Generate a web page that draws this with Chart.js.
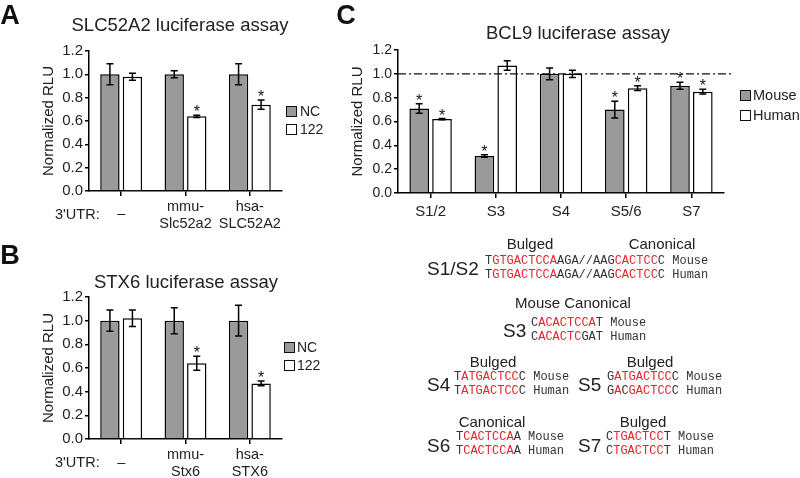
<!DOCTYPE html>
<html>
<head>
<meta charset="utf-8">
<script src="https://cdn.jsdelivr.net/npm/chart.js@4.4.1/dist/chart.umd.min.js"></script>
<style>
  body { margin: 0; background: #fff; font-family: 'Liberation Sans', Arial, sans-serif; color: #222; }
  #wrap { position: relative; width: 800px; height: 478px; overflow: hidden; }
  canvas { position: absolute; }
  .c, .l { position: absolute; white-space: nowrap; line-height: 1; }
  .c { transform: translate(-50%, -50%); }
  .l { transform: translateY(-50%); }
  .letter { font-weight: bold; font-size: 27px; color: #111; }
  .title { font-size: 18.5px; }
  .box { position: absolute; width: 9px; height: 9px; border: 1.5px solid #111; }
  .seq { font-family: 'Liberation Mono', 'Courier New', monospace; font-size: 12px; color: #333; line-height: 14px; }
  .seq b { font-weight: normal; color: #e3252d; }
  .site { font-size: 19px; }
  .kind { font-size: 15px; }
</style>
</head>
<body>
<div id="wrap">
  <canvas id="chartA" width="330" height="240" style="left:0;top:0"></canvas>
  <canvas id="chartB" width="330" height="238" style="left:0;top:240px"></canvas>
  <canvas id="chartC" width="470" height="240" style="left:330px;top:0"></canvas>

  <div class="c letter" style="left:10px;top:15px">A</div>
  <div class="c letter" style="left:10px;top:255px">B</div>
  <div class="c letter" style="left:346px;top:15px">C</div>

  <div class="c title" style="left:180px;top:25px">SLC52A2 luciferase assay</div>
  <div class="c title" style="left:186px;top:282px">STX6 luciferase assay</div>
  <div class="c title" style="left:578px;top:33px">BCL9 luciferase assay</div>

  <!-- legends -->
  <div class="box" style="left:286px;top:106px;background:#9a9a9a"></div>
  <div class="l" style="left:300px;top:111px;font-size:14px">NC</div>
  <div class="box" style="left:286px;top:124px;background:#fff"></div>
  <div class="l" style="left:300px;top:129px;font-size:14px">122</div>

  <div class="box" style="left:284px;top:342px;background:#9a9a9a"></div>
  <div class="l" style="left:297px;top:347px;font-size:14px">NC</div>
  <div class="box" style="left:284px;top:360px;background:#fff"></div>
  <div class="l" style="left:297px;top:365px;font-size:14px">122</div>

  <div class="box" style="left:740px;top:90px;background:#9a9a9a"></div>
  <div class="l" style="left:753px;top:95px;font-size:14.5px">Mouse</div>
  <div class="box" style="left:740px;top:110px;background:#fff"></div>
  <div class="l" style="left:753px;top:115px;font-size:14.5px">Human</div>

  <!-- target sites -->
  <div class="c kind" style="left:530px;top:243px">Bulged</div>
  <div class="c kind" style="left:662px;top:243px">Canonical</div>
  <div class="l site" style="left:427px;top:268px">S1/S2</div>
  <div class="l seq" style="left:485px;top:268px">T<b>GTGACTCCA</b>AGA//AAG<b>CACTCC</b>C Mouse<br>T<b>GTGACTCCA</b>AGA//AAG<b>CACTCC</b>C Human</div>

  <div class="c kind" style="left:573px;top:302px">Mouse Canonical</div>
  <div class="l site" style="left:503px;top:330px">S3</div>
  <div class="l seq" style="left:531px;top:330px">C<b>ACACTCCA</b>T Mouse<br>C<b>ACACTC</b>GAT Human</div>

  <div class="c kind" style="left:493px;top:361px">Bulged</div>
  <div class="c kind" style="left:650px;top:361px">Bulged</div>
  <div class="l site" style="left:427px;top:384px">S4</div>
  <div class="l seq" style="left:454px;top:384px">T<b>ATGACTCC</b>C Mouse<br>T<b>ATGACTCC</b>C Human</div>
  <div class="l site" style="left:578px;top:384px">S5</div>
  <div class="l seq" style="left:607px;top:384px">G<b>ATGACTCC</b>C Mouse<br>G<b>A</b>C<b>GACTCC</b>C Human</div>

  <div class="c kind" style="left:492px;top:421px">Canonical</div>
  <div class="c kind" style="left:643px;top:421px">Bulged</div>
  <div class="l site" style="left:427px;top:445px">S6</div>
  <div class="l seq" style="left:456px;top:444px">T<b>CACTCCA</b>A Mouse<br>T<b>CACTCCA</b>A Human</div>
  <div class="l site" style="left:578px;top:445px">S7</div>
  <div class="l seq" style="left:606px;top:444px">C<b>TGACTCC</b>T Mouse<br>C<b>TGACTCC</b>T Human</div>
</div>

<script>
// panel A - SLC52A2
const catsA = [['–'], ['mmu-', 'Slc52a2'], ['hsa-', 'SLC52A2']];
const ncA = [1.0, 1.0, 1.0];
const ncErrA = [0.09, 0.03, 0.09];
const mirA = [0.98, 0.64, 0.74];
const mirErrA = [0.03, 0.01, 0.04];
const mirStarA = [false, true, true];

// panel B - STX6
const catsB = [['–'], ['mmu-', 'Stx6'], ['hsa-', 'STX6']];
const ncB = [1.0, 1.0, 1.0];
const ncErrB = [0.09, 0.11, 0.13];
const mirB = [1.02, 0.64, 0.47];
const mirErrB = [0.07, 0.06, 0.02];
const mirStarB = [false, true, true];

// panel C - BCL9
const catsC = ['S1/2', 'S3', 'S4', 'S5/6', 'S7'];
const mouseC = [0.71, 0.31, 1.0, 0.70, 0.90];
const mouseErrC = [0.04, 0.01, 0.05, 0.07, 0.03];
const mouseStarC = [true, true, false, true, true];
const humanC = [0.62, 1.07, 1.0, 0.88, 0.85];
const humanErrC = [0.005, 0.04, 0.03, 0.02, 0.02];
const humanStarC = [true, false, false, true, true];

const yTicks = [0, 0.2, 0.4, 0.6, 0.8, 1.0, 1.2];

const FONT = "'Liberation Sans', Arial, sans-serif";
const GREY = '#9a9a9a';

// error bars + stars on top of bars
const errorBars = {
  id: 'errorBars',
  afterDatasetsDraw(chart) {
    const ctx = chart.ctx;
    const y = chart.scales.y;
    ctx.save();
    ctx.strokeStyle = '#000';
    ctx.lineWidth = 1.5;
    ctx.fillStyle = '#111';
    ctx.font = '16px ' + FONT;
    ctx.textAlign = 'center';
    ctx.textBaseline = 'alphabetic';
    chart.data.datasets.forEach((ds, di) => {
      chart.getDatasetMeta(di).data.forEach((bar, i) => {
        const v = ds.data[i], e = ds.errors[i];
        const top = y.getPixelForValue(v + e);
        const bot = y.getPixelForValue(v - e);
        ctx.beginPath();
        ctx.moveTo(bar.x, top); ctx.lineTo(bar.x, bot);
        ctx.moveTo(bar.x - 3.5, top); ctx.lineTo(bar.x + 3.5, top);
        ctx.moveTo(bar.x - 3.5, bot); ctx.lineTo(bar.x + 3.5, bot);
        ctx.stroke();
        if (ds.stars[i]) ctx.fillText('*', bar.x, top + 2);
      });
    });
    ctx.restore();
  }
};

// dash-dot reference line at 1.0 (panel C)
const refLine = {
  id: 'refLine',
  afterDatasetsDraw(chart) {
    const ctx = chart.ctx;
    const py = chart.scales.y.getPixelForValue(1.0);
    ctx.save();
    ctx.strokeStyle = '#111';
    ctx.lineWidth = 1.3;
    ctx.setLineDash([8, 3, 2, 3]);
    ctx.beginPath();
    ctx.moveTo(chart.chartArea.left, py);
    ctx.lineTo(chart.chartArea.right + 7, py);
    ctx.stroke();
    ctx.restore();
  }
};

// 3'UTR labels under panels A and B
function utrLabels(cats, lineY, singleY, prefixY) {
  return {
    id: 'utrLabels',
    afterDraw(chart) {
      const ctx = chart.ctx;
      const x = chart.scales.x;
      ctx.save();
      ctx.fillStyle = '#222';
      ctx.font = '14.5px ' + FONT;
      ctx.textAlign = 'center';
      ctx.textBaseline = 'middle';
      cats.forEach((lab, i) => {
        const px = x.getPixelForValue(i);
        if (lab.length === 1) ctx.fillText(lab[0], px, singleY);
        else lab.forEach((t, j) => ctx.fillText(t, px, lineY[j]));
      });
      ctx.textAlign = 'left';
      ctx.fillText("3'UTR:", 55, prefixY);
      ctx.restore();
    }
  };
}

function barChart(id, labels, sets, pad, xHeight, tickSize, showX, extra) {
  return new Chart(document.getElementById(id), {
    type: 'bar',
    data: { labels: labels, datasets: sets },
    plugins: [errorBars].concat(extra),
    options: {
      responsive: false,
      animation: false,
      layout: { padding: pad },
      plugins: { legend: { display: false }, tooltip: { enabled: false } },
      datasets: { bar: { categoryPercentage: 0.7, barPercentage: 0.86 } },
      scales: {
        x: {
          afterFit: s => { s.height = xHeight; },
          grid: { offset: false, drawOnChartArea: false, color: '#000', lineWidth: 1.5, tickLength: 5 },
          border: { color: '#000', width: 1.5 },
          ticks: { display: showX, color: '#222', padding: 5, font: { family: FONT, size: 15 } }
        },
        y: {
          min: 0, max: 1.2,
          afterFit: s => { s.width = 49; },
          afterBuildTicks: s => { s.ticks = yTicks.map(v => ({ value: v })); },
          grid: { drawOnChartArea: false, color: '#000', lineWidth: 1.5, tickLength: 4 },
          border: { color: '#000', width: 1.5 },
          ticks: { color: '#222', padding: 2, font: { family: FONT, size: tickSize }, callback: v => v.toFixed(1) },
          title: { display: true, text: 'Normalized RLU', color: '#222', padding: { top: 0, bottom: 0 }, font: { family: FONT, size: 15 } }
        }
      }
    }
  });
}

function bars(label, data, errors, stars, fill) {
  return { label: label, data: data, errors: errors, stars: stars, backgroundColor: fill, borderColor: '#000', borderWidth: 1.5 };
}

barChart('chartA', catsA.map(c => c.join(' ')), [
  bars('NC', ncA, ncErrA, [false, false, false], GREY),
  bars('122', mirA, mirErrA, mirStarA, '#fff')
], { left: 40, top: 51, right: 48, bottom: 0 }, 49, 15, false,
  [utrLabels(catsA, [207, 224], 214, 215)]);

barChart('chartB', catsB.map(c => c.join(' ')), [
  bars('NC', ncB, ncErrB, [false, false, false], GREY),
  bars('122', mirB, mirErrB, mirStarB, '#fff')
], { left: 40, top: 57, right: 48, bottom: 0 }, 39, 15, false,
  [utrLabels(catsB, [215, 232], 223, 223)]);

barChart('chartC', catsC, [
  bars('Mouse', mouseC, mouseErrC, mouseStarC, GREY),
  bars('Human', humanC, humanErrC, humanStarC, '#fff')
], { left: 19, top: 50, right: 76, bottom: 0 }, 47, 14, true, [refLine]);
</script>
</body>
</html>
